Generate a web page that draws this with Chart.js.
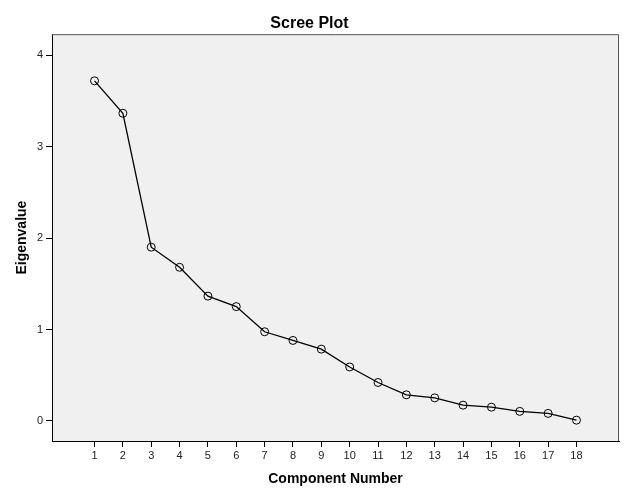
<!DOCTYPE html>
<html>
<head>
<meta charset="utf-8">
<script src="https://cdn.jsdelivr.net/npm/chart.js@4/dist/chart.umd.min.js"></script>
<style>
  html, body { margin: 0; padding: 0; background: #ffffff; }
  #wrap { width: 626px; height: 501px; }
</style>
</head>
<body>
<div id="wrap"><canvas id="c" width="626" height="501"></canvas></div>
<script>
const components = [1,2,3,4,5,6,7,8,9,10,11,12,13,14,15,16,17,18];
const eigenvalues = [3.72,3.365,1.90,1.68,1.365,1.25,0.975,0.88,0.785,0.59,0.42,0.285,0.252,0.172,0.15,0.104,0.082,0.008];
const xTicks = [1,2,3,4,5,6,7,8,9,10,11,12,13,14,15,16,17,18];
const yTicks = [0,1,2,3,4];

const FONT = "'Liberation Sans', Arial, sans-serif";

const plotBg = {
  id: 'plotBg',
  beforeDraw(chart) {
    const {ctx, chartArea: a} = chart;
    ctx.save();
    ctx.fillStyle = '#f0f0f0';
    ctx.fillRect(a.left, a.top, a.right - a.left, a.bottom - a.top);
    ctx.restore();
  },
  afterDraw(chart) {
    const {ctx, chartArea: a} = chart;
    ctx.save();
    ctx.strokeStyle = '#555555';
    ctx.lineWidth = 1;
    ctx.beginPath();
    ctx.moveTo(a.left, a.top + 0.5);
    ctx.lineTo(a.right - 0.5, a.top + 0.5);
    ctx.lineTo(a.right - 0.5, a.bottom);
    ctx.stroke();
    ctx.restore();
  }
};

new Chart(document.getElementById('c'), {
  type: 'scatter',
  data: {
    datasets: [{
      data: components.map((c, i) => ({x: c, y: eigenvalues[i]})),
      showLine: true,
      borderColor: '#000000',
      borderWidth: 1.3,
      pointRadius: 4,
      pointBorderWidth: 1,
      pointBorderColor: '#000000',
      pointBackgroundColor: 'rgba(0,0,0,0)',
      pointHoverRadius: 4
    }]
  },
  options: {
    responsive: false,
    animation: false,
    layout: { padding: { left: 0, right: 7, top: 0, bottom: 0 } },
    plugins: {
      legend: { display: false },
      tooltip: { enabled: false },
      title: {
        display: true,
        text: 'Scree Plot',
        color: '#000000',
        font: { family: FONT, size: 16, weight: 'bold' },
        padding: { top: 14, bottom: 1 }
      }
    },
    scales: {
      x: {
        type: 'linear',
        min: -0.5,
        max: 19.5,
        afterBuildTicks(scale) { scale.ticks = xTicks.map(v => ({value: v})); },
        afterFit(scale) { scale.height = 60; },
        grid: { drawOnChartArea: false, drawTicks: true, tickLength: 6, color: '#000000' },
        border: { display: true, color: '#000000', width: 1 },
        ticks: { color: '#222222', font: { family: FONT, size: 11 }, padding: 2, maxRotation: 0, autoSkip: false },
        title: {
          display: true,
          text: 'Component Number',
          color: '#000000',
          font: { family: FONT, size: 14, weight: 'bold' },
          padding: { top: 4, bottom: 13 }
        }
      },
      y: {
        type: 'linear',
        min: -0.22,
        max: 4.23,
        afterBuildTicks(scale) { scale.ticks = yTicks.map(v => ({value: v})); },
        afterFit(scale) { scale.width = 52; },
        grid: { drawOnChartArea: false, drawTicks: true, tickLength: 6, color: '#000000' },
        border: { display: true, color: '#000000', width: 1 },
        ticks: { color: '#222222', font: { family: FONT, size: 11 }, padding: 3 },
        title: {
          display: true,
          text: 'Eigenvalue',
          color: '#000000',
          font: { family: FONT, size: 14, weight: 'bold' },
          padding: { top: 14, bottom: 4 }
        }
      }
    }
  },
  plugins: [plotBg]
});
</script>
</body>
</html>
